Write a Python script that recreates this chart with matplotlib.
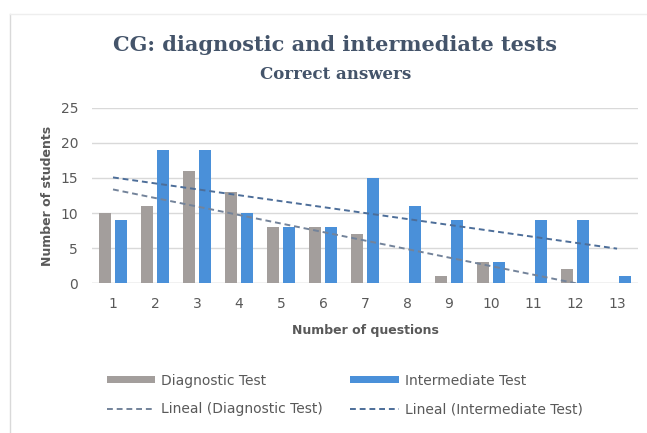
import numpy as np
import matplotlib.pyplot as plt
from matplotlib.lines import Line2D

questions = np.arange(1, 14)
diagnostic = [10, 11, 16, 13, 8, 8, 7, 0, 1, 3, 0, 2, 0]
intermediate = [9, 19, 19, 10, 8, 8, 15, 11, 9, 3, 9, 9, 1]

GRAY = "#A39E9C"
BLUE = "#4A90D9"
TXT = "#595959"


def main():
    fig = plt.figure(figsize=(6.47, 4.33), dpi=100)
    ax = fig.add_axes([0.1422, 0.346, 0.844, 0.405])

    w = 0.29
    off = 0.19
    ax.bar(questions - off, diagnostic, width=w, color=GRAY, label="Diagnostic Test", zorder=2)
    ax.bar(questions + off, intermediate, width=w, color=BLUE, label="Intermediate Test", zorder=2)

    # linear trend lines (Excel "Lineal")
    xs = np.linspace(1, 13, 100)
    d_fit = np.polyfit(questions, diagnostic, 1)
    i_fit = np.polyfit(questions, intermediate, 1)
    ax.plot(xs, np.polyval(d_fit, xs), ls=(0, (3, 2)), color="#73839A", lw=1.4,
            label="Lineal (Diagnostic Test)", zorder=3)
    ax.plot(xs, np.polyval(i_fit, xs), ls=(0, (3, 2)), color="#4D6E99", lw=1.4,
            label="Lineal (Intermediate Test)", zorder=3)

    ax.set_xlim(0.5, 13.5)
    ax.set_ylim(0, 25)
    ax.set_yticks(range(0, 26, 5))
    ax.set_xticks(questions)
    ax.yaxis.grid(True, color="#D9D9D9", lw=1, zorder=0)
    for s in ax.spines.values():
        s.set_visible(False)
    ax.axhline(0, color="#D9D9D9", lw=1, zorder=1)
    ax.tick_params(axis="both", length=0, labelsize=10, colors=TXT)
    ax.tick_params(axis="y", pad=10)
    ax.tick_params(axis="x", pad=10)

    ax.set_xlabel("Number of questions", fontsize=9, fontweight="bold", color=TXT, labelpad=9)
    ax.set_ylabel("Number of students", fontsize=9, fontweight="bold", color=TXT, labelpad=5)

    fig.text(0.518, 0.896, "CG: diagnostic and intermediate tests", ha="center", va="center",
             fontsize=15, fontweight="bold", color="#44546A", family="DejaVu Serif")
    fig.text(0.518, 0.829, "Correct answers", ha="center", va="center",
             fontsize=12, fontweight="bold", color="#44546A", family="DejaVu Serif")

    h, l = ax.get_legend_handles_labels()
    order = [2, 0, 3, 1]
    fig.legend([h[i] for i in order], [l[i] for i in order], ncol=2,
               loc="upper left", bbox_to_anchor=(0.165, 0.137), frameon=False,
               fontsize=10, labelcolor=TXT, handlelength=3.5, handleheight=0.45,
               handletextpad=0.4, columnspacing=2.0, labelspacing=1.05,
               borderaxespad=0, borderpad=0)

    # chart frame (left and top edges visible)
    fig.add_artist(Line2D([0.016, 0.016], [0, 0.968], transform=fig.transFigure,
                          color="#D9D9D9", lw=1))
    fig.add_artist(Line2D([0.016, 1], [0.968, 0.968], transform=fig.transFigure,
                          color="#EEEEEE", lw=1))

    plt.savefig("out.png", dpi=100)


if __name__ == '__main__':
    main()
